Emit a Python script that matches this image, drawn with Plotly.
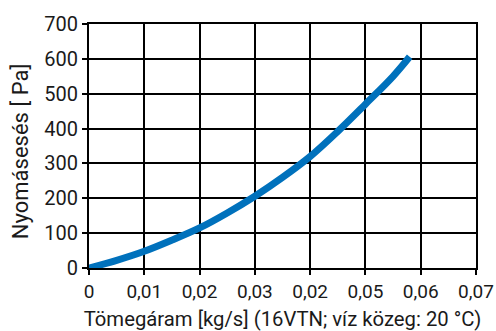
import plotly.graph_objects as go

# mass flow [kg/s] and pressure drop [Pa]
mass_flow = [0, 0.005, 0.01, 0.015, 0.02, 0.025, 0.03, 0.035, 0.04, 0.045, 0.05, 0.055, 0.058]
pressure_drop = [0, 22, 48, 80, 115, 158, 206, 260, 320, 392, 470, 550, 606]

x_ticks = [0, 0.01, 0.02, 0.03, 0.04, 0.05, 0.06, 0.07]
x_tick_labels = ["0", "0,01", "0,02", "0,03", "0,02", "0,05", "0,06", "0,07"]
y_ticks = [0, 100, 200, 300, 400, 500, 600, 700]

font_family = "Roboto, Arial, sans-serif"

fig = go.Figure()

fig.add_trace(
    go.Scatter(
        x=mass_flow,
        y=pressure_drop,
        mode="lines",
        line=dict(color="#0071bc", width=7, shape="spline"),
        showlegend=False,
        hoverinfo="skip",
    )
)

fig.update_layout(
    width=496,
    height=331,
    margin=dict(l=89, r=20, t=24, b=63),
    paper_bgcolor="white",
    plot_bgcolor="white",
    font=dict(family=font_family, size=19, color="#1a1a1a"),
)

axis_style = dict(
    showgrid=True,
    gridcolor="black",
    gridwidth=2,
    showline=True,
    linecolor="black",
    linewidth=2,
    mirror=True,
    ticks="outside",
    ticklen=5,
    tickwidth=2,
    tickcolor="black",
    zeroline=False,
    automargin=False,
)

fig.update_xaxes(
    range=[0, 0.07],
    tickvals=x_ticks,
    ticktext=x_tick_labels,
    tickfont=dict(size=19),
    title=dict(text="Tömegáram [kg/s] (16VTN; víz közeg: 20 °C)", font=dict(size=20.3), standoff=13),
    **axis_style,
)
fig.update_yaxes(
    range=[0, 700],
    tickvals=y_ticks,
    tickfont=dict(size=20),
    **axis_style,
)

# y axis title placed by hand (sits a little below the plot's centre)
fig.add_annotation(
    text="Nyomásesés [ Pa]",
    textangle=-90,
    xref="paper",
    yref="paper",
    x=-0.178,
    y=0.475,
    xanchor="center",
    yanchor="middle",
    showarrow=False,
    font=dict(family=font_family, size=22, color="#1a1a1a"),
)

# clipped piece of a heading above the chart
fig.add_annotation(
    text="y",
    xref="paper",
    yref="paper",
    x=0.866,
    y=1.09,
    xanchor="center",
    yanchor="bottom",
    showarrow=False,
    font=dict(family=font_family, size=22, color="#0071bc"),
)

fig.write_html(
    "out.html",
    config={"displayModeBar": False},
    post_script="document.body.style.margin='0';document.body.style.overflow='hidden';",
)
